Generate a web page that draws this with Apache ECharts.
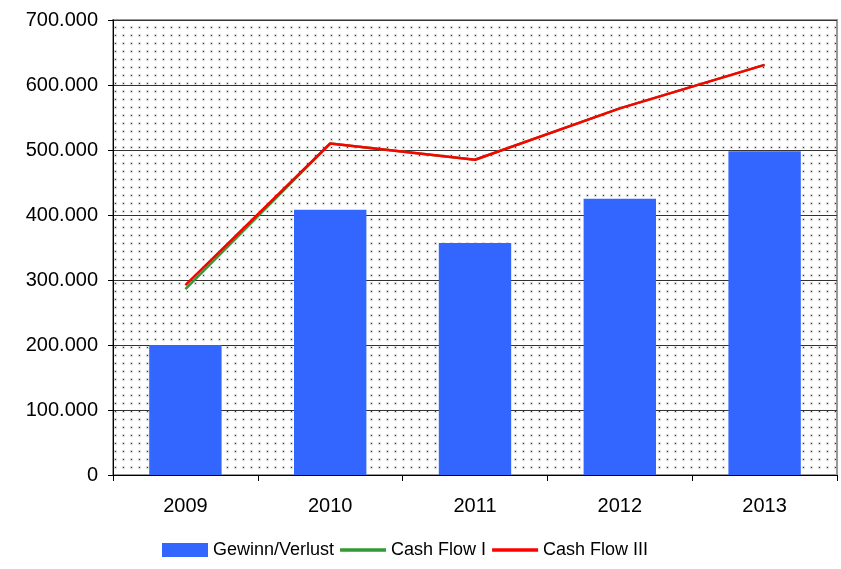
<!DOCTYPE html>
<html>
<head>
<meta charset="utf-8">
<script src="https://cdn.jsdelivr.net/npm/echarts@6/dist/echarts.min.js"></script>
<style>
    html, body { margin: 0; padding: 0; background: #fff; }
    #chart { width: 841px; height: 569px; }
</style>
</head>
<body>
<div id="chart"></div>
<script>
const years = ['2009', '2010', '2011', '2012', '2013'];
const gewinnVerlust = [200000, 408000, 357000, 425000, 498000];
const cashFlow1 = [286000, 510000, 485000, 564000, 631000];
const cashFlow3 = [292000, 510000, 485000, 564000, 631000];

// dotted plot background
const dots = document.createElement('canvas');
dots.width = 8; dots.height = 8;
const ctx = dots.getContext('2d');
ctx.fillStyle = '#fff';
ctx.fillRect(0, 0, 8, 8);
ctx.fillStyle = 'rgba(60,60,60,0.18)';
ctx.fillRect(2, 2, 3, 3);
ctx.fillStyle = '#333';
ctx.fillRect(3, 3, 1, 1);

function fmt(v){
    return String(v).replace(/\B(?=(\d{3})+(?!\d))/g, '.');
}

const lineIcon = 'path://M0,0H40V3H0Z';

const chart = echarts.init(document.getElementById('chart'));
chart.setOption({
    animation: false,
    textStyle: { fontFamily: 'Liberation Sans, Arial, sans-serif' },
    grid: {
        left: 113, right: 4, top: 20, bottom: 94,
        show: true,
        backgroundColor: { image: dots, repeat: 'repeat' },
        borderColor: '#999',
        borderWidth: 2
    },
    legend: {
        bottom: 5,
        left: 157,
        itemWidth: 46,
        itemHeight: 14,
        itemGap: 6,
        textStyle: { fontSize: 18, color: '#000' },
        data: [
            { name: 'Gewinn/Verlust', icon: 'rect' },
            { name: 'Cash Flow I', icon: lineIcon },
            { name: 'Cash Flow III', icon: lineIcon }
        ]
    },
    xAxis: {
        type: 'category',
        data: years,
        axisLine: { lineStyle: { color: '#000', width: 1 } },
        axisTick: { show: true, length: 6, lineStyle: { color: '#000' } },
        axisLabel: { fontSize: 20, color: '#000', margin: 21 }
    },
    yAxis: {
        type: 'value',
        min: 0, max: 700000, interval: 100000,
        axisLine: { show: true, lineStyle: { color: '#000', width: 1 } },
        axisTick: { show: true, length: 5, lineStyle: { color: '#000' } },
        axisLabel: { fontSize: 20, color: '#000', margin: 15, formatter: fmt },
        splitLine: { lineStyle: { color: '#333', width: 1 } }
    },
    series: [{
        name: 'Gewinn/Verlust',
        type: 'bar',
        data: gewinnVerlust,
        barWidth: '50%',
        itemStyle: { color: '#3366ff' }
    }, {
        name: 'Cash Flow I',
        type: 'line',
        data: cashFlow1,
        symbol: 'none',
        lineStyle: { color: '#339933', width: 2.5 },
        itemStyle: { color: '#339933' }
    }, {
        name: 'Cash Flow III',
        type: 'line',
        data: cashFlow3,
        symbol: 'none',
        lineStyle: { color: '#ff0000', width: 2.5 },
        itemStyle: { color: '#ff0000' }
    }]
});
</script>
</body>
</html>
